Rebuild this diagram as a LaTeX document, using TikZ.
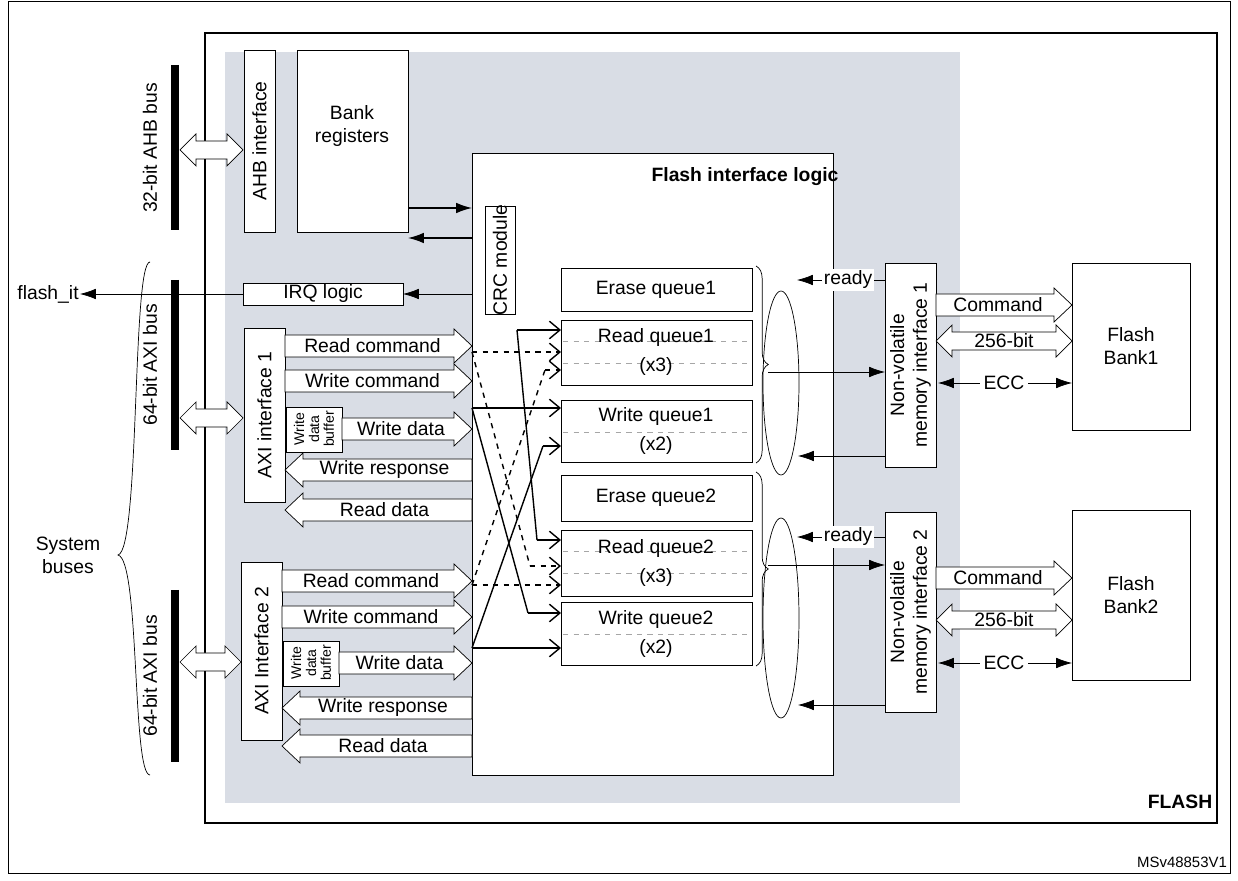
\documentclass[tikz,border=0pt]{standalone}
\usepackage{fontspec}
\setmainfont{Liberation Sans}
\usetikzlibrary{arrows.meta,decorations.pathreplacing}
\definecolor{bgshade}{HTML}{D9DDE5}
\newcommand{\hra}[4]{% rightward hollow arrow from #1 to #2 at #3, label #4
\draw[fill=white,thin] (#1,#3-11) -- (#2-18,#3-11) -- (#2-18,#3-17) -- (#2,#3) -- (#2-18,#3+17) -- (#2-18,#3+11) -- (#1,#3+11) -- cycle;
\node[lbl] at ({(#1+#2)/2-6},#3) {#4};}
\newcommand{\hla}[4]{% leftward hollow arrow, head at #2 (left) , tail #1
\draw[fill=white,thin] (#1,#3-11) -- (#2+18,#3-11) -- (#2+18,#3-17) -- (#2,#3) -- (#2+18,#3+17) -- (#2+18,#3+11) -- (#1,#3+11) -- cycle;
\node[lbl] at ({(#1+#2)/2+6},#3) {#4};}
\newcommand{\hda}[4]{% double hollow arrow
\draw[fill=white,thin] (#1,#3) -- (#1+16,#3-16) -- (#1+16,#3-9) -- (#2-16,#3-9) -- (#2-16,#3-16) -- (#2,#3) -- (#2-16,#3+16) -- (#2-16,#3+9) -- (#1+16,#3+9) -- (#1+16,#3+16) -- cycle;
\node[lbl] at ({(#1+#2)/2},#3) {#4};}
\begin{document}
\begin{tikzpicture}[x=0.02cm,y=-0.02cm,
  lbl/.style={font=\fontsize{11}{13}\selectfont,inner sep=0pt},
  rot/.style={rotate=90},
  arr/.style={-{Latex[length=9pt,width=6pt]}},
  darr/.style={{Latex[length=9pt,width=6pt]}-{Latex[length=9pt,width=6pt]}},
  oarr/.style={-{Straight Barb[length=6pt,width=10pt]},thick},
  oarrd/.style={-{Straight Barb[length=6pt,width=10pt]},thick,dashed},
  gd/.style={gray!70,dashed,thin},
  buf/.style={font=\fontsize{8}{8.5}\selectfont,rot,align=center,inner sep=0pt}]
\useasboundingbox (0,0) rectangle (1238,881);
\draw[thin] (8,1) rectangle (1230,873);
% FLASH
\draw[thick] (205,33) rectangle (1217,823);
\fill[bgshade] (225,52) rectangle (960,803);
\node[font=\fontsize{11}{13}\selectfont\bfseries] (flashlbl) at (1180,802) {FLASH};
\node[font=\fontsize{8.5}{10}\selectfont] (ver) at (1182,862) {MSv48853V1};
% bus bars
\draw[line width=5pt] (175,65) -- (175,230);
\draw[line width=5pt] (175,280) -- (175,450);
\draw[line width=5pt] (175,590) -- (175,762);
\node[lbl,rot] (ahbbus) at (150,148) {32-bit AHB bus};
\node[lbl,rot] (axibus1) at (150,365) {64-bit AXI bus};
\node[lbl,rot] (axibus2) at (150,676) {64-bit AXI bus};
\draw[thin] (150,262) .. controls (132,262) and (140,550) .. (118,555) .. controls (140,560) and (132,775) .. (150,775);
\node[lbl,align=center] (sysb) at (68,555) {System\\buses};
\hda{180}{243}{150}{}
\hda{180}{243}{418}{}
\hda{180}{241}{662}{}
% left boxes
\draw[fill=white] (244,50) rectangle (275,232);
\node[lbl,rot] (ahbtxt) at (259.5,141) {AHB interface};
\draw[fill=white] (297,50) rectangle (408,232);
\node[lbl,align=center] (bank) at (352,126) {Bank\\registers};
\draw[fill=white] (472,153) rectangle (833,775);
\node[font=\fontsize{11}{13}\selectfont\bfseries] (filt) at (745,177) {Flash interface logic};
\draw[fill=white] (485,206) rectangle (515,314);
\node[lbl,rot] (crc) at (500,260) {CRC module};
\draw[arr,thick] (408,208) -- (472,208);
\draw[arr,thick] (472,238) -- (408,238);
\draw[fill=white] (243,283) rectangle (403,305);
\node[lbl] (irq) at (323,294) {IRQ logic};
\draw[arr] (472,294) -- (403,294);
\draw[arr] (243,294) -- (80,294);
\node[lbl,anchor=east] (fit) at (79,294) {flash\_it};
% AXI 1
\draw[fill=white] (244,328) rectangle (285,502);
\node[lbl,rot] (axi1) at (264.5,415) {AXI interface 1};
\hra{285}{472}{346}{Read command}
\hra{285}{472}{381}{Write command}
\draw[fill=white] (286,407) rectangle (342,452);
\node[buf] (wdb1) at (314,429) {Write\\data\\buffer};
\hra{342}{472}{429}{Write data}
\hla{472}{285}{470}{Write response}
\hla{472}{285}{510}{Read data}
% AXI 2
\draw[fill=white] (241,562) rectangle (282,740);
\node[lbl,rot] (axi2) at (261.5,651) {AXI Interface 2};
\hra{282}{472}{581}{Read command}
\hra{282}{472}{617}{Write command}
\draw[fill=white] (283,641) rectangle (339,686);
\node[buf] (wdb2) at (311,663) {Write\\data\\buffer};
\hra{339}{472}{663}{Write data}
\hla{472}{282}{708}{Write response}
\hla{472}{282}{746}{Read data}
% queues
\foreach \a/\b in {268/311,320/385,400/462,475/521,530/596,602/665}
  \draw (561,\a) rectangle (752,\b);
\draw[gd] (563,341) -- (750,341); \draw[gd] (563,363) -- (750,363);
\draw[gd] (563,432) -- (750,432);
\draw[gd] (563,551) -- (750,551); \draw[gd] (563,573) -- (750,573);
\draw[gd] (563,634) -- (750,634);
\node[lbl] (teq1) at (656,290) {Erase queue1};
\node[lbl,align=center] (trq1) at (656,352) {Read queue1\\[4pt](x3)};
\node[lbl,align=center] (twq1) at (656,431) {Write queue1\\[4pt](x2)};
\node[lbl] (teq2) at (656,498) {Erase queue2};
\node[lbl,align=center] (trq2) at (656,563) {Read queue2\\[4pt](x3)};
\node[lbl,align=center] (twq2) at (656,634) {Write queue2\\[4pt](x2)};
% crossing connectors
\coordinate (c0) at (517,330); \coordinate (c1) at (537,540);
\draw[oarr] (c0) -- (561,330);
\draw[thick] (c0) -- (c1); \draw[oarr] (c1) -- (561,540);
\coordinate (w1) at (472,408); \coordinate (w1b) at (528,613);
\draw[oarr] (w1) -- (561,408);
\draw[thick] (w1) -- (w1b); \draw[oarr] (w1b) -- (561,613);
\coordinate (w2) at (472,648); \coordinate (w2b) at (543,446);
\draw[oarr] (w2) -- (561,648);
\draw[thick] (w2) -- (w2b); \draw[oarr] (w2b) -- (561,446);
\coordinate (r1) at (472,352); \coordinate (r1b) at (530,566);
\draw[oarrd] (r1) -- (561,352);
\draw[thick,dashed] (r1) -- (r1b); \draw[oarrd] (r1b) -- (561,566);
\coordinate (r2) at (472,585); \coordinate (r2b) at (545,370);
\draw[oarrd] (r2) -- (561,585);
\draw[thick,dashed] (r2) -- (r2b); \draw[oarrd] (r2b) -- (561,370);
% braces & ellipses
\draw[decorate,decoration={brace,amplitude=7pt}] (756,266) -- (756,463);
\draw[decorate,decoration={brace,amplitude=7pt}] (756,472) -- (756,666);
\draw (781,383) ellipse [x radius=18, y radius=92];
\draw (781,618) ellipse [x radius=18, y radius=100];
% NVM
\draw[fill=white] (885,263) rectangle (936,467);
\node[lbl,rot,align=center] (nvm1) at (910.5,365) {Non-volatile\\memory interface 1};
\draw[fill=white] (885,512) rectangle (936,712);
\node[lbl,rot,align=center] (nvm2) at (910.5,612) {Non-volatile\\memory interface 2};
\draw[arr] (885,280) -- (797,280); \node[lbl,fill=white,inner sep=1pt] (rd1) at (848,280) {ready};
\draw[arr] (768,372) -- (885,372);
\draw[arr] (885,456) -- (798,456);
\draw[arr] (885,537) -- (797,537); \node[lbl,fill=white,inner sep=1pt] (rd2) at (848,537) {ready};
\draw[arr] (768,565) -- (885,565);
\draw[arr] (885,705) -- (798,705);
% banks
\draw[fill=white] (1072,263) rectangle (1190,430);
\node[lbl,align=center] (fb1) at (1131,346) {Flash\\Bank1};
\draw[fill=white] (1072,510) rectangle (1190,680);
\node[lbl,align=center] (fb2) at (1131,595) {Flash\\Bank2};
\hra{936}{1072}{305}{Command}
\hda{936}{1072}{341}{256-bit}
\draw[darr] (938,383) -- (1072,383);
\node[lbl,fill=white,inner sep=2pt] (ecc1) at (1004,383) {ECC};
\hra{936}{1072}{578}{Command}
\hda{936}{1072}{620}{256-bit}
\draw[darr] (938,663) -- (1072,663);
\node[lbl,fill=white,inner sep=2pt] (ecc2) at (1004,663) {ECC};
\end{tikzpicture}
\end{document}
